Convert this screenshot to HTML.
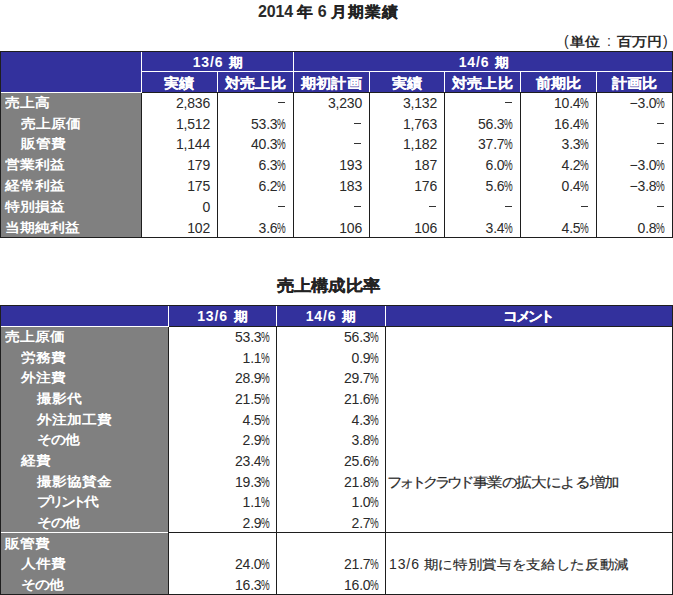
<!DOCTYPE html>
<html><head><meta charset="utf-8">
<style>
*{margin:0;padding:0;box-sizing:border-box}
html,body{width:673px;height:595px;overflow:hidden;background:#fff}
body{position:relative;font-family:"Liberation Sans",sans-serif;color:#2a2a2a}
.b{position:absolute}
.t{position:absolute;white-space:nowrap;font-size:14px;line-height:20px;height:20px}
.jp{display:inline-block;transform-origin:0 65%}
.d{font-size:14px;letter-spacing:-0.2px}
.pc{display:inline-block;transform:scaleX(0.7);transform-origin:0 50%;margin-right:-3.7px}
.r{text-align:right}
.c{text-align:center}
.h{color:#fff}
.hj{font-weight:bold;-webkit-text-stroke:0.2px #fff}
.hd{font-size:14px;letter-spacing:0.9px;font-weight:bold;margin-right:2px}
.lb{color:#fff}
.lj{font-weight:bold}
.tt{font-weight:bold;font-size:16px}
.tj{-webkit-text-stroke:0.25px #222}
.tt .d{font-size:16px}
.uj{font-weight:bold}
.cm{}
.cj{-webkit-text-stroke:0.2px #2a2a2a}
.dc{letter-spacing:0.9px;margin-right:0px}
</style></head><body>
<div class="t tt" style="left:0;top:2px;width:657px;text-align:center"><span class="d">2014</span> <span class="jp tj" style="font-size:16px;letter-spacing:0px;transform:scaleY(0.95);">年</span> <span class="d">6</span> <span class="jp tj" style="font-size:16px;letter-spacing:1px;transform:scaleY(0.95);">月期業績</span></div>
<div class="t un" style="left:564px;top:31px;width:10px;">(</div>
<div class="t un" style="left:570px;top:31px;width:40px;"><span class="jp uj" style="font-size:15px;letter-spacing:0px;transform:scaleY(0.87);">単位</span></div>
<div class="t un" style="left:607px;top:31px;width:10px;">:</div>
<div class="t un" style="left:617px;top:31px;width:50px;"><span class="jp uj" style="font-size:14.7px;letter-spacing:0px;transform:scaleY(0.87);">百万円</span></div>
<div class="t un" style="left:663px;top:31px;width:10px;">)</div>
<div class="t tt" style="left:0px;top:276px;width:657px;text-align:center"><span class="jp tj" style="font-size:17px;letter-spacing:0.3px;transform:scaleY(0.92);">売上構成比率</span></div>
<div class="b" style="left:0px;top:51px;width:673px;height:187px;background:#1e1e1e"></div>
<div class="b" style="left:1px;top:52px;width:671px;height:40px;background:#33319d"></div>
<div class="b" style="left:1px;top:93px;width:140px;height:144px;background:#808080"></div>
<div class="b" style="left:142px;top:93px;width:530px;height:144px;background:#fff"></div>
<div class="b" style="left:141px;top:52px;width:1px;height:41px;background:#fff"></div>
<div class="b" style="left:1px;top:92px;width:140px;height:1px;background:#fff"></div>
<div class="b" style="left:142px;top:71px;width:530px;height:1px;background:#fff"></div>
<div class="b" style="left:293px;top:52px;width:1px;height:20px;background:#fff"></div>
<div class="b" style="left:217px;top:72px;width:1px;height:20px;background:#fff"></div>
<div class="b" style="left:293px;top:72px;width:1px;height:20px;background:#fff"></div>
<div class="b" style="left:369px;top:72px;width:1px;height:20px;background:#fff"></div>
<div class="b" style="left:444px;top:72px;width:1px;height:20px;background:#fff"></div>
<div class="b" style="left:520px;top:72px;width:1px;height:20px;background:#fff"></div>
<div class="b" style="left:596px;top:72px;width:1px;height:20px;background:#fff"></div>
<div class="b" style="left:142px;top:92px;width:530px;height:1px;background:#1e1e1e"></div>
<div class="b" style="left:141px;top:93px;width:1px;height:144px;background:#1e1e1e"></div>
<div class="b" style="left:217px;top:93px;width:1px;height:144px;background:#1e1e1e"></div>
<div class="b" style="left:293px;top:93px;width:1px;height:144px;background:#1e1e1e"></div>
<div class="b" style="left:369px;top:93px;width:1px;height:144px;background:#1e1e1e"></div>
<div class="b" style="left:444px;top:93px;width:1px;height:144px;background:#1e1e1e"></div>
<div class="b" style="left:520px;top:93px;width:1px;height:144px;background:#1e1e1e"></div>
<div class="b" style="left:596px;top:93px;width:1px;height:144px;background:#1e1e1e"></div>
<div class="t h c" style="left:142px;top:52px;width:152px;"><span class="hd">13/6</span> <span class="jp hj" style="font-size:14px;letter-spacing:0px;transform:scaleY(0.95);">期</span></div>
<div class="t h c" style="left:295px;top:52px;width:378px;"><span class="hd">14/6</span> <span class="jp hj" style="font-size:14px;letter-spacing:0px;transform:scaleY(0.95);">期</span></div>
<div class="t h c" style="left:142px;top:73px;width:75px;"><span class="jp hj" style="font-size:15px;letter-spacing:0.3px;transform:scaleY(0.93);">実績</span></div>
<div class="t h c" style="left:218px;top:73px;width:75px;"><span class="jp hj" style="font-size:15px;letter-spacing:0.3px;transform:scaleY(0.93);">対売上比</span></div>
<div class="t h c" style="left:294px;top:73px;width:75px;"><span class="jp hj" style="font-size:15px;letter-spacing:0.3px;transform:scaleY(0.93);">期初計画</span></div>
<div class="t h c" style="left:370px;top:73px;width:74px;"><span class="jp hj" style="font-size:15px;letter-spacing:0.3px;transform:scaleY(0.93);">実績</span></div>
<div class="t h c" style="left:445px;top:73px;width:75px;"><span class="jp hj" style="font-size:15px;letter-spacing:0.3px;transform:scaleY(0.93);">対売上比</span></div>
<div class="t h c" style="left:521px;top:73px;width:75px;"><span class="jp hj" style="font-size:15px;letter-spacing:0.3px;transform:scaleY(0.93);">前期比</span></div>
<div class="t h c" style="left:597px;top:73px;width:75px;"><span class="jp hj" style="font-size:15px;letter-spacing:0.3px;transform:scaleY(0.93);">計画比</span></div>
<div class="t lb" style="left:5px;top:92px;width:135px;"><span class="jp lj" style="font-size:15px;letter-spacing:0px;transform:scaleY(0.88);">売上高</span></div>
<div class="t r" style="left:141px;top:93px;width:69px;"><span class="d">2,836</span></div>
<div class="b" style="left:278px;top:102px;width:7px;height:1px;background:#333"></div>
<div class="t r" style="left:293px;top:93px;width:69px;"><span class="d">3,230</span></div>
<div class="t r" style="left:369px;top:93px;width:68px;"><span class="d">3,132</span></div>
<div class="b" style="left:505px;top:102px;width:7px;height:1px;background:#333"></div>
<div class="t r" style="left:520px;top:93px;width:69px;"><span class="d">10.4<span class="pc">%</span></span></div>
<div class="t r" style="left:596px;top:93px;width:69px;"><span class="d">−3.0<span class="pc">%</span></span></div>
<div class="t lb" style="left:21px;top:113px;width:135px;"><span class="jp lj" style="font-size:15px;letter-spacing:0px;transform:scaleY(0.88);">売上原価</span></div>
<div class="t r" style="left:141px;top:114px;width:69px;"><span class="d">1,512</span></div>
<div class="t r" style="left:217px;top:114px;width:69px;"><span class="d">53.3<span class="pc">%</span></span></div>
<div class="b" style="left:354px;top:123px;width:7px;height:1px;background:#333"></div>
<div class="t r" style="left:369px;top:114px;width:68px;"><span class="d">1,763</span></div>
<div class="t r" style="left:444px;top:114px;width:69px;"><span class="d">56.3<span class="pc">%</span></span></div>
<div class="t r" style="left:520px;top:114px;width:69px;"><span class="d">16.4<span class="pc">%</span></span></div>
<div class="b" style="left:657px;top:123px;width:7px;height:1px;background:#333"></div>
<div class="t lb" style="left:21px;top:133px;width:135px;"><span class="jp lj" style="font-size:15px;letter-spacing:0px;transform:scaleY(0.88);">販管費</span></div>
<div class="t r" style="left:141px;top:134px;width:69px;"><span class="d">1,144</span></div>
<div class="t r" style="left:217px;top:134px;width:69px;"><span class="d">40.3<span class="pc">%</span></span></div>
<div class="b" style="left:354px;top:143px;width:7px;height:1px;background:#333"></div>
<div class="t r" style="left:369px;top:134px;width:68px;"><span class="d">1,182</span></div>
<div class="t r" style="left:444px;top:134px;width:69px;"><span class="d">37.7<span class="pc">%</span></span></div>
<div class="t r" style="left:520px;top:134px;width:69px;"><span class="d">3.3<span class="pc">%</span></span></div>
<div class="b" style="left:657px;top:143px;width:7px;height:1px;background:#333"></div>
<div class="t lb" style="left:5px;top:154px;width:135px;"><span class="jp lj" style="font-size:15px;letter-spacing:0px;transform:scaleY(0.88);">営業利益</span></div>
<div class="t r" style="left:141px;top:155px;width:69px;"><span class="d">179</span></div>
<div class="t r" style="left:217px;top:155px;width:69px;"><span class="d">6.3<span class="pc">%</span></span></div>
<div class="t r" style="left:293px;top:155px;width:69px;"><span class="d">193</span></div>
<div class="t r" style="left:369px;top:155px;width:68px;"><span class="d">187</span></div>
<div class="t r" style="left:444px;top:155px;width:69px;"><span class="d">6.0<span class="pc">%</span></span></div>
<div class="t r" style="left:520px;top:155px;width:69px;"><span class="d">4.2<span class="pc">%</span></span></div>
<div class="t r" style="left:596px;top:155px;width:69px;"><span class="d">−3.0<span class="pc">%</span></span></div>
<div class="t lb" style="left:5px;top:175px;width:135px;"><span class="jp lj" style="font-size:15px;letter-spacing:0px;transform:scaleY(0.88);">経常利益</span></div>
<div class="t r" style="left:141px;top:176px;width:69px;"><span class="d">175</span></div>
<div class="t r" style="left:217px;top:176px;width:69px;"><span class="d">6.2<span class="pc">%</span></span></div>
<div class="t r" style="left:293px;top:176px;width:69px;"><span class="d">183</span></div>
<div class="t r" style="left:369px;top:176px;width:68px;"><span class="d">176</span></div>
<div class="t r" style="left:444px;top:176px;width:69px;"><span class="d">5.6<span class="pc">%</span></span></div>
<div class="t r" style="left:520px;top:176px;width:69px;"><span class="d">0.4<span class="pc">%</span></span></div>
<div class="t r" style="left:596px;top:176px;width:69px;"><span class="d">−3.8<span class="pc">%</span></span></div>
<div class="t lb" style="left:5px;top:196px;width:135px;"><span class="jp lj" style="font-size:15px;letter-spacing:0px;transform:scaleY(0.88);">特別損益</span></div>
<div class="t r" style="left:141px;top:197px;width:69px;"><span class="d">0</span></div>
<div class="b" style="left:278px;top:206px;width:7px;height:1px;background:#333"></div>
<div class="b" style="left:354px;top:206px;width:7px;height:1px;background:#333"></div>
<div class="b" style="left:429px;top:206px;width:7px;height:1px;background:#333"></div>
<div class="b" style="left:505px;top:206px;width:7px;height:1px;background:#333"></div>
<div class="b" style="left:581px;top:206px;width:7px;height:1px;background:#333"></div>
<div class="b" style="left:657px;top:206px;width:7px;height:1px;background:#333"></div>
<div class="t lb" style="left:5px;top:217px;width:135px;"><span class="jp lj" style="font-size:15px;letter-spacing:0px;transform:scaleY(0.88);">当期純利益</span></div>
<div class="t r" style="left:141px;top:218px;width:69px;"><span class="d">102</span></div>
<div class="t r" style="left:217px;top:218px;width:69px;"><span class="d">3.6<span class="pc">%</span></span></div>
<div class="t r" style="left:293px;top:218px;width:69px;"><span class="d">106</span></div>
<div class="t r" style="left:369px;top:218px;width:68px;"><span class="d">106</span></div>
<div class="t r" style="left:444px;top:218px;width:69px;"><span class="d">3.4<span class="pc">%</span></span></div>
<div class="t r" style="left:520px;top:218px;width:69px;"><span class="d">4.5<span class="pc">%</span></span></div>
<div class="t r" style="left:596px;top:218px;width:69px;"><span class="d">0.8<span class="pc">%</span></span></div>
<div class="b" style="left:0px;top:305px;width:673px;height:290px;background:#1e1e1e"></div>
<div class="b" style="left:1px;top:306px;width:671px;height:20px;background:#33319d"></div>
<div class="b" style="left:1px;top:327px;width:167px;height:267px;background:#808080"></div>
<div class="b" style="left:169px;top:327px;width:503px;height:267px;background:#fff"></div>
<div class="b" style="left:168px;top:306px;width:1px;height:21px;background:#fff"></div>
<div class="b" style="left:1px;top:326px;width:167px;height:1px;background:#fff"></div>
<div class="b" style="left:276px;top:306px;width:1px;height:20px;background:#fff"></div>
<div class="b" style="left:385px;top:306px;width:1px;height:20px;background:#fff"></div>
<div class="b" style="left:169px;top:326px;width:503px;height:1px;background:#1e1e1e"></div>
<div class="b" style="left:168px;top:327px;width:1px;height:267px;background:#1e1e1e"></div>
<div class="b" style="left:276px;top:327px;width:1px;height:267px;background:#1e1e1e"></div>
<div class="b" style="left:385px;top:327px;width:1px;height:267px;background:#1e1e1e"></div>
<div class="b" style="left:1px;top:532px;width:167px;height:1px;background:#fff"></div>
<div class="b" style="left:169px;top:532px;width:503px;height:1px;background:#1e1e1e"></div>
<div class="t h c" style="left:169px;top:306px;width:107px;"><span class="hd">13/6</span> <span class="jp hj" style="font-size:14px;letter-spacing:0px;transform:scaleY(0.95);">期</span></div>
<div class="t h c" style="left:277px;top:306px;width:108px;"><span class="hd">14/6</span> <span class="jp hj" style="font-size:14px;letter-spacing:0px;transform:scaleY(0.95);">期</span></div>
<div class="t h c" style="left:385px;top:306px;width:286px;"><span class="jp hj" style="font-size:15px;letter-spacing:-2.6px;transform:scaleY(0.95);">コメント</span></div>
<div class="t lb" style="left:5px;top:326px;width:160px;"><span class="jp lj" style="font-size:15px;letter-spacing:0px;transform:scaleY(0.88);">売上原価</span></div>
<div class="t r" style="left:168px;top:327px;width:102px;"><span class="d">53.3<span class="pc">%</span></span></div>
<div class="t r" style="left:276px;top:327px;width:103px;"><span class="d">56.3<span class="pc">%</span></span></div>
<div class="t lb" style="left:21px;top:347px;width:160px;"><span class="jp lj" style="font-size:15px;letter-spacing:0px;transform:scaleY(0.88);">労務費</span></div>
<div class="t r" style="left:168px;top:348px;width:102px;"><span class="d">1.1<span class="pc">%</span></span></div>
<div class="t r" style="left:276px;top:348px;width:103px;"><span class="d">0.9<span class="pc">%</span></span></div>
<div class="t lb" style="left:21px;top:367px;width:160px;"><span class="jp lj" style="font-size:15px;letter-spacing:0px;transform:scaleY(0.88);">外注費</span></div>
<div class="t r" style="left:168px;top:368px;width:102px;"><span class="d">28.9<span class="pc">%</span></span></div>
<div class="t r" style="left:276px;top:368px;width:103px;"><span class="d">29.7<span class="pc">%</span></span></div>
<div class="t lb" style="left:37px;top:388px;width:160px;"><span class="jp lj" style="font-size:15px;letter-spacing:0px;transform:scaleY(0.88);">撮影代</span></div>
<div class="t r" style="left:168px;top:389px;width:102px;"><span class="d">21.5<span class="pc">%</span></span></div>
<div class="t r" style="left:276px;top:389px;width:103px;"><span class="d">21.6<span class="pc">%</span></span></div>
<div class="t lb" style="left:37px;top:409px;width:160px;"><span class="jp lj" style="font-size:15px;letter-spacing:0px;transform:scaleY(0.88);">外注加工費</span></div>
<div class="t r" style="left:168px;top:410px;width:102px;"><span class="d">4.5<span class="pc">%</span></span></div>
<div class="t r" style="left:276px;top:410px;width:103px;"><span class="d">4.3<span class="pc">%</span></span></div>
<div class="t lb" style="left:37px;top:429px;width:160px;"><span class="jp lj" style="font-size:15px;letter-spacing:-1px;transform:scaleY(0.88);">その</span><span class="jp lj" style="font-size:15px;letter-spacing:0px;transform:scaleY(0.88);">他</span></div>
<div class="t r" style="left:168px;top:430px;width:102px;"><span class="d">2.9<span class="pc">%</span></span></div>
<div class="t r" style="left:276px;top:430px;width:103px;"><span class="d">3.8<span class="pc">%</span></span></div>
<div class="t lb" style="left:21px;top:450px;width:160px;"><span class="jp lj" style="font-size:15px;letter-spacing:0px;transform:scaleY(0.88);">経費</span></div>
<div class="t r" style="left:168px;top:451px;width:102px;"><span class="d">23.4<span class="pc">%</span></span></div>
<div class="t r" style="left:276px;top:451px;width:103px;"><span class="d">25.6<span class="pc">%</span></span></div>
<div class="t lb" style="left:37px;top:471px;width:160px;"><span class="jp lj" style="font-size:15px;letter-spacing:0px;transform:scaleY(0.88);">撮影協賛金</span></div>
<div class="t r" style="left:168px;top:472px;width:102px;"><span class="d">19.3<span class="pc">%</span></span></div>
<div class="t r" style="left:276px;top:472px;width:103px;"><span class="d">21.8<span class="pc">%</span></span></div>
<div class="t cm" style="left:387px;top:472px;width:282px;"><span class="jp cj" style="font-size:15px;letter-spacing:-3.0px;transform:scaleY(0.9);">フォトクラウド</span><span class="jp cj" style="font-size:15px;letter-spacing:-0.35px;transform:scaleY(0.9);margin-left:1.5px">事業の拡大による増加</span></div>
<div class="t lb" style="left:37px;top:491px;width:160px;"><span class="jp lj" style="font-size:15px;letter-spacing:-3.2px;transform:scaleY(0.88);">プリント</span><span class="jp lj" style="font-size:15px;letter-spacing:0px;transform:scaleY(0.88);">代</span></div>
<div class="t r" style="left:168px;top:492px;width:102px;"><span class="d">1.1<span class="pc">%</span></span></div>
<div class="t r" style="left:276px;top:492px;width:103px;"><span class="d">1.0<span class="pc">%</span></span></div>
<div class="t lb" style="left:37px;top:512px;width:160px;"><span class="jp lj" style="font-size:15px;letter-spacing:-1px;transform:scaleY(0.88);">その</span><span class="jp lj" style="font-size:15px;letter-spacing:0px;transform:scaleY(0.88);">他</span></div>
<div class="t r" style="left:168px;top:513px;width:102px;"><span class="d">2.9<span class="pc">%</span></span></div>
<div class="t r" style="left:276px;top:513px;width:103px;"><span class="d">2.7<span class="pc">%</span></span></div>
<div class="t lb" style="left:5px;top:533px;width:160px;"><span class="jp lj" style="font-size:15px;letter-spacing:0px;transform:scaleY(0.88);">販管費</span></div>
<div class="t lb" style="left:21px;top:553px;width:160px;"><span class="jp lj" style="font-size:15px;letter-spacing:0px;transform:scaleY(0.88);">人件費</span></div>
<div class="t r" style="left:168px;top:554px;width:102px;"><span class="d">24.0<span class="pc">%</span></span></div>
<div class="t r" style="left:276px;top:554px;width:103px;"><span class="d">21.7<span class="pc">%</span></span></div>
<div class="t cm" style="left:387px;top:554px;width:282px;"><span class="d dc" style="margin-left:2px">13/6</span> <span class="jp cj" style="font-size:14.6px;letter-spacing:-0.35px;transform:scaleY(0.9);">期に特別賞与を支給した反動減</span></div>
<div class="t lb" style="left:21px;top:574px;width:160px;"><span class="jp lj" style="font-size:15px;letter-spacing:-1px;transform:scaleY(0.88);">その</span><span class="jp lj" style="font-size:15px;letter-spacing:0px;transform:scaleY(0.88);">他</span></div>
<div class="t r" style="left:168px;top:575px;width:102px;"><span class="d">16.3<span class="pc">%</span></span></div>
<div class="t r" style="left:276px;top:575px;width:103px;"><span class="d">16.0<span class="pc">%</span></span></div>
</body></html>
